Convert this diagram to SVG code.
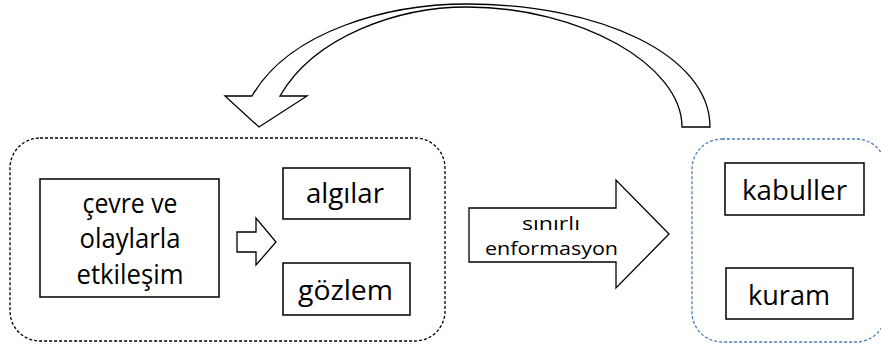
<svg xmlns="http://www.w3.org/2000/svg" width="881" height="350" viewBox="0 0 881 350">
<style>
.box{fill:#fff;stroke:#000;stroke-width:1.5}
.arr{fill:#fff;stroke:#000;stroke-width:1.3;stroke-linejoin:miter}
.t{font-family:"Open Sans",Lato,sans-serif;font-size:27px;fill:#000;text-anchor:middle}
.s{font-family:"Open Sans",Lato,sans-serif;font-size:19px;fill:#000;text-anchor:middle}
</style>
<rect width="881" height="350" fill="#fff"/>
<g id="group-left">
<rect x="10" y="138" width="435" height="203" rx="30" fill="none" stroke="#000" stroke-width="1.3" stroke-dasharray="3,2"/>
</g>
<g id="group-right">
<rect x="692" y="139" width="194" height="203" rx="30" fill="none" stroke="#4a7ebb" stroke-width="1.3" stroke-dasharray="3,2"/>
</g>
<g id="cevre">
<rect class="box" x="40" y="179" width="179" height="118"/>
<text class="t" x="130" y="213" textLength="95" lengthAdjust="spacingAndGlyphs">çevre ve</text>
<text class="t" x="130" y="248" textLength="101" lengthAdjust="spacingAndGlyphs">olaylarla</text>
<text class="t" x="130" y="284" textLength="107" lengthAdjust="spacingAndGlyphs">etkileşim</text>
</g>
<g id="algilar">
<rect class="box" x="283" y="168" width="127" height="51"/>
<text class="t" x="345" y="203" textLength="78" lengthAdjust="spacingAndGlyphs">algılar</text>
</g>
<g id="gozlem">
<rect class="box" x="283" y="263" width="127" height="52"/>
<text class="t" x="345.5" y="300" textLength="95" lengthAdjust="spacingAndGlyphs">gözlem</text>
</g>
<g id="kabuller">
<rect class="box" x="725" y="163" width="139" height="52"/>
<text class="t" x="794.5" y="200" textLength="105" lengthAdjust="spacingAndGlyphs">kabuller</text>
</g>
<g id="kuram">
<rect class="box" x="726" y="268" width="127" height="51"/>
<text class="t" x="789" y="305" textLength="82" lengthAdjust="spacingAndGlyphs">kuram</text>
</g>
<g id="connectors">
<path class="arr" d="M237,232 H256 V218 L276,242 L256,265 V252 H237 Z"/>
<path class="arr" d="M469,208 H616 V180 L669,234 L616,288 V262 H469 Z"/>
<text class="s" x="551" y="230" textLength="58" lengthAdjust="spacingAndGlyphs">sınırlı</text>
<text class="s" x="551.5" y="255" textLength="133" lengthAdjust="spacingAndGlyphs">enformasyon</text>
<path class="arr" d="M225,96 H252 C290,30 390,4 467,4 C600,4 710,55 710,127 H682 C682,65 580,7 467,7 C400,7 315,35 280,96 H307 L259,127 Z"/>
</g>
</svg>
